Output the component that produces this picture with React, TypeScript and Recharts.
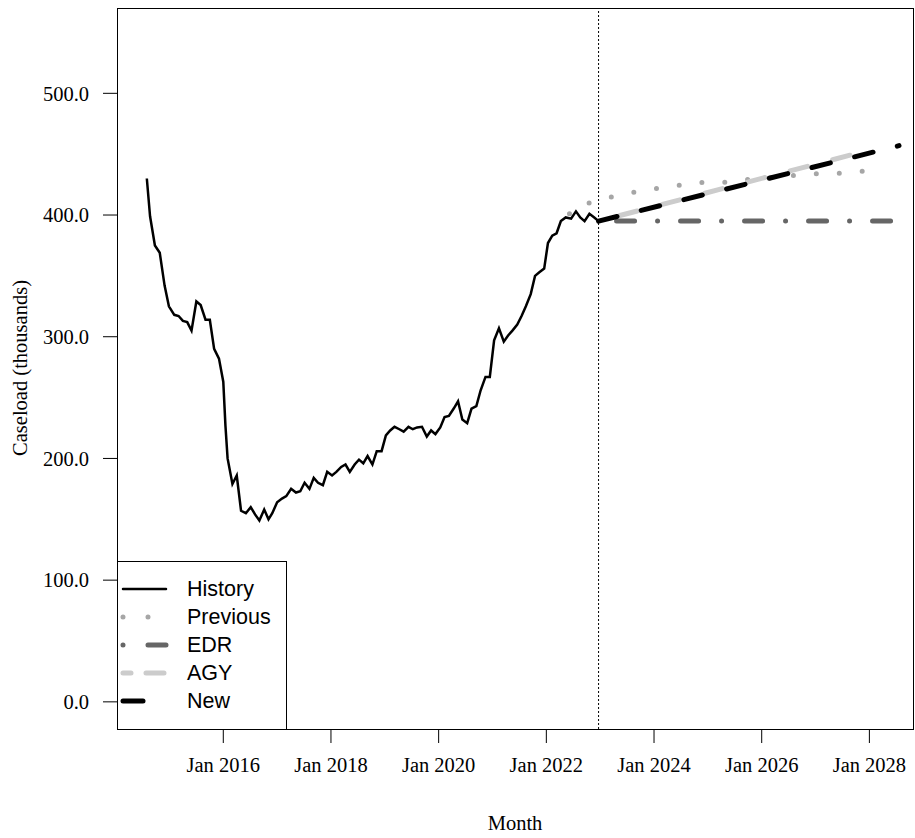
import React from "react";
import { LineChart, Line, XAxis, YAxis, ReferenceLine } from "recharts";

const historyX = [2014.58,2014.64,2014.73,2014.82,2014.91,2014.99,2015.09,2015.17,2015.25,2015.33,2015.41,2015.50,2015.58,2015.67,2015.75,2015.83,2015.92,2016.0,2016.04,2016.08,2016.17,2016.25,2016.33,2016.42,2016.51,2016.59,2016.67,2016.76,2016.84,2016.91,2017.0,2017.09,2017.17,2017.26,2017.35,2017.43,2017.51,2017.60,2017.68,2017.76,2017.85,2017.93,2018.02,2018.10,2018.19,2018.27,2018.35,2018.44,2018.52,2018.60,2018.68,2018.77,2018.85,2018.94,2019.02,2019.10,2019.18,2019.27,2019.35,2019.44,2019.52,2019.60,2019.69,2019.78,2019.86,2019.94,2020.03,2020.11,2020.19,2020.28,2020.36,2020.44,2020.53,2020.61,2020.70,2020.78,2020.87,2020.95,2021.03,2021.12,2021.21,2021.29,2021.37,2021.46,2021.54,2021.62,2021.71,2021.79,2021.87,2021.96,2022.03,2022.11,2022.19,2022.27,2022.36,2022.46,2022.55,2022.63,2022.71,2022.80,2022.89,2022.97];
const historyY = [430,399,375,369,342,325,318,317,313,312,305,329,326,314,314,290,282,263,227,200,179,186,157,155,160,154,149,158,150,155,164,167,169,175,172,173,180,175,184,180,178,189,186,189,193,195,189,195,199,196,202,195,206,206,219,223,226,224,222,226,224,225.5,226,218,223,220,225.5,234,235,241,247,232,229,241,243,256,267,267,297,307,296,301,305,310,317,325,335,350,353,356,377,383,385,395,398,397,403,398,395,401,398,395];

const previousX = [2022.43,2022.62,2022.80,2023.01,2023.45,2023.88,2024.31,2024.75,2025.18,2025.62,2026.05,2026.48,2026.92,2027.36,2027.80,2028.23];
const previousY = [401,408,410,413,417,421,423,427,426,429,430,432,434,434,436,436];

const edrX = [2022.97, 2028.5];
const edrY = [395, 395];
const agyX = [2022.97, 2027.8];
const agyY = [395, 451];
const newX = [2022.97, 2028.55];
const newY = [395, 457];

const xTicks = [2016, 2018, 2020, 2022, 2024, 2026, 2028];
const yTicks = [0, 100, 200, 300, 400, 500];
const forecastStart = 2022.97;

const zip = (xs: number[], ys: number[]) => xs.map((x, i) => ({ x, y: ys[i] }));

const serif = "'Liberation Serif', 'DejaVu Serif', serif";
const sans = "'Liberation Sans', Arial, sans-serif";

const legendItems = [
  { name: "History", color: "#000", w: 2.5, dash: "" },
  { name: "Previous", color: "#a6a6a6", w: 5, dash: "0 25" },
  { name: "EDR", color: "#666666", w: 5, dash: "0 25 18 22" },
  { name: "AGY", color: "#cccccc", w: 5, dash: "8 15 18 20" },
  { name: "New", color: "#000", w: 5, dash: "20 40" },
];

export default function App() {
  return (
    <div style={{ position: "absolute", left: 0, top: 0, width: 915, height: 838, background: "#fff" }}>
      <LineChart width={915} height={838} margin={{ top: 8, right: 2, bottom: 0, left: 0 }}>
        <XAxis
          type="number"
          dataKey="x"
          domain={[2014.026, 2028.81]}
          allowDataOverflow
          ticks={xTicks}
          tickFormatter={(v) => "Jan " + v}
          tick={{ fill: "#000", fontFamily: serif, fontSize: 20.5 }}
          tickSize={14}
          tickMargin={14}
          height={109}
          stroke="#000"
          axisLine={false}
          tickLine={{ stroke: "#000" }}
        />
        <YAxis
          type="number"
          dataKey="y"
          domain={[-22.3, 570.1]}
          allowDataOverflow
          ticks={yTicks}
          tickFormatter={(v) => Number(v).toFixed(1)}
          tick={{ fill: "#000", fontFamily: serif, fontSize: 20.5 }}
          tickSize={14}
          tickMargin={14}
          width={117}
          axisLine={false}
          tickLine={{ stroke: "#000" }}
        />
        <ReferenceLine x={forecastStart} stroke="#000" strokeWidth={1} strokeDasharray="2 2" />
        <Line data={zip(previousX, previousY)} dataKey="y" stroke="#a6a6a6" strokeWidth={5} strokeLinecap="round" strokeDasharray="0 23" dot={false} isAnimationActive={false} />
        <Line data={zip(edrX, edrY)} dataKey="y" stroke="#666666" strokeWidth={5} strokeLinecap="round" strokeDasharray="18 23 0 23" strokeDashoffset={-18} dot={false} isAnimationActive={false} />
        <Line data={zip(agyX, agyY)} dataKey="y" stroke="#cccccc" strokeWidth={5} strokeLinecap="round" strokeDasharray="18 26" strokeDashoffset={-22} dot={false} isAnimationActive={false} />
        <Line data={zip(newX, newY)} dataKey="y" stroke="#000" strokeWidth={5} strokeLinecap="round" strokeDasharray="19 25" dot={false} isAnimationActive={false} />
        <Line data={zip(historyX, historyY)} dataKey="y" stroke="#000" strokeWidth={2.5} dot={false} isAnimationActive={false} />
      </LineChart>
      <div style={{ position: "absolute", left: 117, top: 8, width: 795, height: 720, border: "1px solid #000", pointerEvents: "none" }} />
      <div style={{ position: "absolute", left: 117, top: 561, width: 168, height: 167, border: "1px solid #000", background: "#fff" }}>
        {legendItems.map((it, i) => (
          <div key={it.name} style={{ position: "absolute", left: 0, top: 15 + i * 28, height: 24, display: "flex", alignItems: "center" }}>
            <svg width={60} height={24}>
              <line x1={5} y1={12} x2={48} y2={12} stroke={it.color} strokeWidth={it.w} strokeLinecap="round" strokeDasharray={it.dash || undefined} />
            </svg>
            <span style={{ marginLeft: 9, fontFamily: sans, fontSize: 21.5, color: "#000" }}>{it.name}</span>
          </div>
        ))}
      </div>
      <div style={{ position: "absolute", left: 0, top: 812, width: 915, paddingLeft: 117, paddingRight: 2, boxSizing: "border-box", textAlign: "center", fontFamily: serif, fontSize: 20.5 }}>Month</div>
      <div style={{ position: "absolute", left: 20, top: 368, fontFamily: serif, fontSize: 20.5, transform: "translate(-50%, -50%) rotate(-90deg)", whiteSpace: "nowrap" }}>Caseload (thousands)</div>
    </div>
  );
}
